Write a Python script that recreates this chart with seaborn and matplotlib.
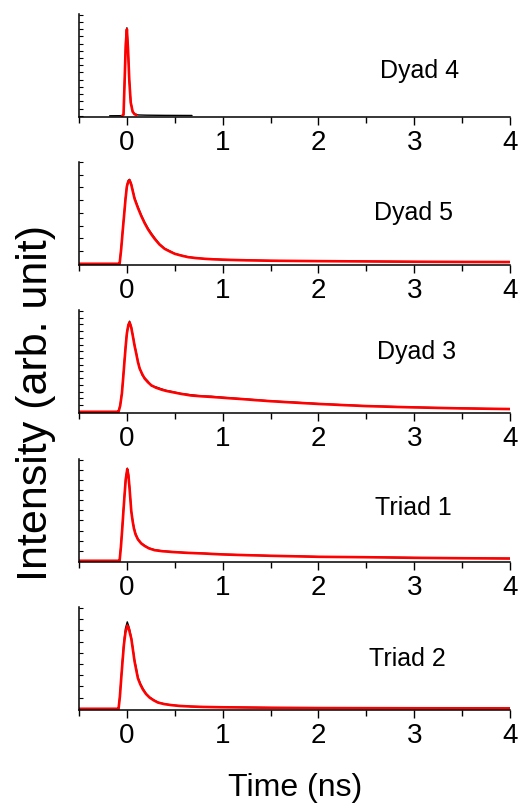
import matplotlib
matplotlib.use("Agg")
import matplotlib.pyplot as plt
from matplotlib.ticker import MultipleLocator, NullFormatter
import seaborn as sns

sns.set_style("ticks")
plt.rcParams['font.family'] = ['Liberation Sans', 'DejaVu Sans']
plt.rcParams['text.color'] = 'black'
plt.rcParams['xtick.color'] = 'black'
plt.rcParams['ytick.color'] = 'black'
plt.rcParams['axes.edgecolor'] = 'black'

# ---------------- data (normalised intensity) ----------------
labels = ["Dyad 4", "Dyad 5", "Dyad 3", "Triad 1", "Triad 2"]

# Dyad 4  (fit covers only the peak, data runs on along the baseline)
t1_fit = [-0.05, -0.035, -0.025, -0.012, 0.0, 0.012, 0.025, 0.04, 0.06, 0.08, 0.1]
fit1 = [0.0, 0.01, 0.30, 0.70, 0.85, 0.65, 0.35, 0.13, 0.04, 0.015, 0.008]
t1 = [-0.18, -0.05, -0.035, -0.025, -0.012, 0.0, 0.012, 0.025, 0.04, 0.06, 0.08, 0.12, 0.2, 0.4, 0.68]
dat1 = [0.0, 0.001, 0.012, 0.31, 0.71, 0.865, 0.66, 0.36, 0.14, 0.045, 0.017, 0.008, 0.006, 0.004, 0.003]

# Dyad 5
t2 = [-0.5, -0.09, -0.076, -0.06, -0.042, -0.025, -0.014, 0.0, 0.015, 0.028, 0.045, 0.08, 0.115,
      0.15, 0.185, 0.22, 0.255, 0.29, 0.34, 0.394, 0.45, 0.5, 0.57, 0.64, 0.72, 0.81, 0.9, 1.0,
      1.25, 1.5, 1.75, 2.0, 2.5, 3.0, 3.5, 4.0]
fit2 = [0.0, 0.0, 0.0, 0.14, 0.34, 0.52, 0.64, 0.76, 0.81, 0.82, 0.78, 0.64, 0.55,
        0.47, 0.40, 0.34, 0.29, 0.245, 0.19, 0.147, 0.12, 0.098, 0.08, 0.065, 0.056, 0.049, 0.044, 0.04,
        0.034, 0.030, 0.028, 0.026, 0.023, 0.020, 0.018, 0.017]
dat2 = [0.0, 0.0, 0.002, 0.15, 0.35, 0.53, 0.65, 0.77, 0.82, 0.83, 0.79, 0.65, 0.56,
        0.48, 0.41, 0.35, 0.30, 0.255, 0.195, 0.15, 0.125, 0.10, 0.083, 0.067, 0.058, 0.05, 0.046, 0.042,
        0.036, 0.031, 0.029, 0.027, 0.024, 0.021, 0.019, 0.018]

# Dyad 3
t3 = [-0.5, -0.1, -0.087, -0.07, -0.052, -0.038, -0.024, -0.012, 0.0, 0.015, 0.028, 0.045, 0.063,
      0.08, 0.098, 0.115, 0.133, 0.16, 0.185, 0.22, 0.255, 0.3, 0.36, 0.41, 0.464, 0.56, 0.67,
      0.78, 0.88, 1.0, 1.1, 1.2, 1.35, 1.5, 1.75, 2.0, 2.25, 2.5, 2.75, 3.0, 3.25, 3.5, 3.75, 4.0]
fit3 = [0.0, 0.0, 0.0, 0.06, 0.18, 0.34, 0.51, 0.65, 0.77, 0.85, 0.878, 0.83, 0.74,
        0.65, 0.57, 0.49, 0.426, 0.37, 0.327, 0.29, 0.26, 0.238, 0.218, 0.205, 0.195, 0.177, 0.16,
        0.152, 0.146, 0.138, 0.131, 0.125, 0.114, 0.104, 0.09, 0.077, 0.066, 0.056, 0.049, 0.043,
        0.038, 0.033, 0.030, 0.027]
dat3 = [0.0, 0.0, 0.002, 0.065, 0.19, 0.35, 0.52, 0.66, 0.78, 0.86, 0.89, 0.84, 0.75,
        0.66, 0.58, 0.50, 0.43, 0.36, 0.335, 0.30, 0.255, 0.245, 0.225, 0.21, 0.20, 0.18, 0.167,
        0.155, 0.152, 0.142, 0.135, 0.128, 0.118, 0.106, 0.094, 0.08, 0.069, 0.058, 0.052, 0.045,
        0.04, 0.036, 0.031, 0.029]

# Triad 1
t4 = [-0.5, -0.09, -0.076, -0.062, -0.048, -0.036, -0.024, -0.012, 0.004, 0.016, 0.028, 0.046,
      0.06, 0.073, 0.09, 0.115, 0.15, 0.185, 0.23, 0.29, 0.37, 0.464, 0.6, 0.81, 1.0, 1.25, 1.5,
      1.75, 2.0, 2.5, 3.0, 3.5, 4.0]
fit4 = [0.0, 0.0, 0.0, 0.14, 0.32, 0.49, 0.65, 0.80, 0.90, 0.84, 0.71, 0.485,
        0.39, 0.32, 0.26, 0.21, 0.17, 0.146, 0.122, 0.104, 0.094, 0.087, 0.079, 0.071, 0.062, 0.055, 0.049,
        0.044, 0.039, 0.035, 0.029, 0.025, 0.022]
dat4 = [0.0, 0.0, 0.002, 0.15, 0.33, 0.50, 0.66, 0.81, 0.91, 0.85, 0.72, 0.49,
        0.40, 0.33, 0.27, 0.215, 0.175, 0.15, 0.125, 0.108, 0.097, 0.09, 0.081, 0.073, 0.064, 0.057, 0.05,
        0.046, 0.04, 0.036, 0.031, 0.026, 0.023]

# Triad 2
t5 = [-0.5, -0.1, -0.087, -0.073, -0.059, -0.045, -0.031, -0.015, 0.004, 0.02, 0.035, 0.046, 0.06,
      0.08, 0.1, 0.115, 0.14, 0.167, 0.2, 0.237, 0.28, 0.325, 0.39, 0.464, 0.55, 0.67, 0.8, 0.98,
      1.5, 2.0, 3.0, 4.0]
fit5 = [0.0, 0.0, 0.0, 0.12, 0.30, 0.47, 0.63, 0.75, 0.816, 0.79, 0.73, 0.69, 0.60,
        0.466, 0.37, 0.30, 0.24, 0.19, 0.145, 0.11, 0.083, 0.061, 0.046, 0.036, 0.028, 0.022, 0.018, 0.015,
        0.010, 0.007, 0.005, 0.004]
dat5 = [0.0, 0.0, 0.002, 0.13, 0.31, 0.49, 0.66, 0.79, 0.854, 0.81, 0.75, 0.70, 0.61,
        0.48, 0.39, 0.31, 0.25, 0.20, 0.15, 0.115, 0.087, 0.064, 0.048, 0.037, 0.029, 0.023, 0.019, 0.016,
        0.011, 0.008, 0.006, 0.005]

data_t = [t1, t2, t3, t4, t5]
fit_t = [t1_fit, t2, t3, t4, t5]
fits = [fit1, fit2, fit3, fit4, fit5]
datas = [dat1, dat2, dat3, dat4, dat5]

xticks = [0, 1, 2, 3, 4]

# ---------------- layout ----------------
fig = plt.figure(figsize=(5.2, 8.05), dpi=100)
W, H = 520, 805
left_px, right_px = 79, 510
axis_bottoms_px = [117, 265, 413, 562, 710]
panel_h_px = 103
ytick_steps = [0.071, 0.125, 0.066, 0.099, 0.11]
label_pos = [(3.06, 0.44), (2.99, 0.50), (3.02, 0.59), (2.99, 0.52), (2.93, 0.49)]

for i in range(5):
    b = 1 - axis_bottoms_px[i] / H
    ax = fig.add_axes([left_px / W, b, (right_px - left_px) / W, panel_h_px / H])
    sns.lineplot(x=data_t[i], y=datas[i], ax=ax, color="black", lw=1.0, estimator=None)
    sns.lineplot(x=fit_t[i], y=fits[i], ax=ax, color="#ff0000", lw=1.9, estimator=None)
    ax.set_xlim(-0.5, 4.0)
    ax.set_ylim(-0.012, 1.0)
    ax.set_xticks(xticks)
    ax.set_xticklabels([str(v) for v in xticks])
    ax.xaxis.set_minor_locator(MultipleLocator(0.5))
    ax.yaxis.set_major_locator(MultipleLocator(ytick_steps[i]))
    ax.yaxis.set_major_formatter(NullFormatter())
    ax.tick_params(axis="x", which="major", direction="out", length=6, width=1.0,
                   labelsize=20, pad=3, colors="black")
    ax.tick_params(axis="x", which="minor", direction="out", length=4, width=1.0, colors="black")
    ax.tick_params(axis="y", which="major", direction="in", length=3, width=0.8, colors="black")
    for s in ["top", "right"]:
        ax.spines[s].set_visible(False)
    for s in ["left", "bottom"]:
        ax.spines[s].set_linewidth(1.1)
        ax.spines[s].set_color("black")
    ax.set_xlabel("")
    ax.set_ylabel("")
    ax.text(label_pos[i][0], label_pos[i][1], labels[i], fontsize=18, color="black",
            ha="center", va="center")

fig.text(0.07, 0.499, "Intensity (arb. unit)", rotation=90, fontsize=31, color="black",
         ha="center", va="center")
fig.text(0.567, 0.0106, "Time (ns)", fontsize=23, color="black", ha="center", va="baseline")

fig.savefig("out.png", dpi=100)
